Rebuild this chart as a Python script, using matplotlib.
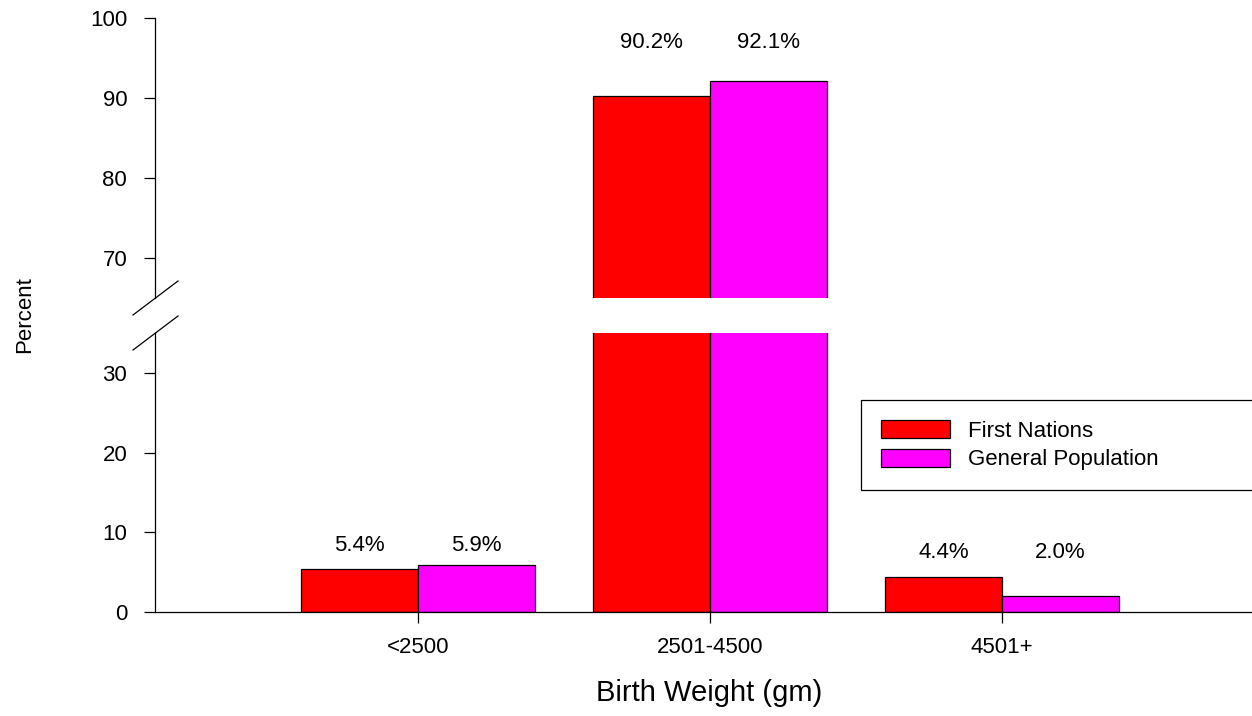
import matplotlib
matplotlib.use("Agg")
import matplotlib.pyplot as plt
from matplotlib.lines import Line2D
import numpy as np

plt.rcParams['font.family'] = ['Liberation Sans', 'DejaVu Sans']

categories = ["<2500", "2501-4500", "4501+"]
first_nations = [5.4, 90.2, 4.4]
general_population = [5.9, 92.1, 2.0]
series_names = ["First Nations", "General Population"]
series_colors = ["#FF0000", "#FF00FF"]

lower_ticks = [0, 10, 20, 30]
upper_ticks = [70, 80, 90, 100]
lower_limits = (0, 35)
upper_limits = (65, 100)
# vertical centre of the value labels for each group (data units)
label_heights = [8.4, 97.0, 7.5]

W, H = 1252, 716
fig = plt.figure(figsize=(W / 100, H / 100), dpi=100)

left = 155 / W
width = 1.0 - left
ax_lo = fig.add_axes([left, (H - 612) / H, width, (612 - 333) / H])
ax_hi = fig.add_axes([left, (H - 298) / H, width, (298 - 18) / H])

x = np.arange(len(categories))
bw = 0.4
for ax in (ax_lo, ax_hi):
    for i, (vals, name, col) in enumerate(zip([first_nations, general_population],
                                              series_names, series_colors)):
        ax.bar(x + (i - 0.5) * bw, vals, width=bw, color=col, edgecolor="black",
               linewidth=0.9, label=name)
    ax.set_xlim(-0.9, -0.9 + (W - 155) / 292)
    ax.spines['top'].set_visible(False)
    ax.spines['right'].set_visible(False)
    ax.spines['left'].set_linewidth(0.9)
    ax.tick_params(axis='y', direction='out', length=8, width=0.9, pad=12,
                   labelsize=16)

ax_lo.set_ylim(*lower_limits)
ax_hi.set_ylim(*upper_limits)
ax_lo.set_yticks(lower_ticks)
ax_hi.set_yticks(upper_ticks)
ax_lo.spines['bottom'].set_linewidth(0.9)
ax_hi.spines['bottom'].set_visible(False)
ax_hi.set_xticks([])
ax_lo.set_xticks(x)
ax_lo.set_xticklabels(categories)
ax_lo.tick_params(axis='x', direction='out', length=8, width=0.9, pad=10,
                  labelsize=16)

# value labels
for i in range(len(categories)):
    target = ax_hi if label_heights[i] > upper_limits[0] else ax_lo
    for j, vals in enumerate([first_nations, general_population]):
        target.text(x[i] + (j - 0.5) * bw, label_heights[i], f"{vals[i]:.1f}%",
                    ha="center", va="center", fontsize=16)

# axis break marks
for yc in (298, 333):
    fig.add_artist(Line2D([133 / W, 178 / W], [(H - (yc + 17)) / H, (H - (yc - 17)) / H],
                          color="black", linewidth=0.9))

fig.text(25 / W, (H - 315) / H, "Percent", rotation=90, ha="center", va="center",
         fontsize=16)
fig.text(709 / W, (H - 693) / H, "Birth Weight (gm)", ha="center",
         va="center", fontsize=21)

leg = ax_lo.legend(loc="upper left",
                   bbox_to_anchor=(861 / W, (H - 489) / H, (1262 - 861) / W, (489 - 400) / H),
                   bbox_transform=fig.transFigure, mode="expand",
                   fancybox=False, edgecolor="black", framealpha=1,
                   fontsize=16, handlelength=3.1, handleheight=0.9,
                   borderpad=0.9, labelspacing=0.3, handletextpad=0.8,
                   borderaxespad=0)
leg.get_frame().set_linewidth(0.9)

fig.savefig("out.png", dpi=100)
